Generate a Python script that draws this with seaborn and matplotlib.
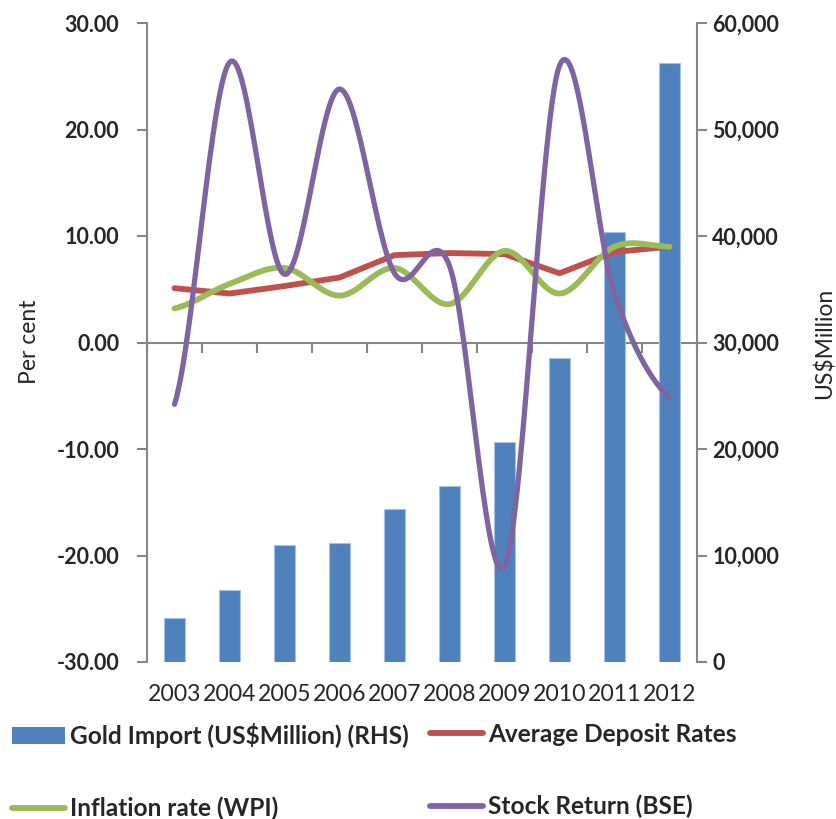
import numpy as np
import pandas as pd
import matplotlib
matplotlib.use("Agg")
import matplotlib.pyplot as plt
import seaborn as sns
from matplotlib.patches import Patch
from matplotlib.lines import Line2D
from matplotlib.ticker import FixedLocator, FuncFormatter

# data
years = ["2003", "2004", "2005", "2006", "2007", "2008", "2009", "2010", "2011", "2012"]
gold_import = [4100, 6730, 10960, 11150, 14340, 16560, 20630, 28570, 40400, 56200]  # US$ million (RHS)
deposit_rate = [5.1, 4.6, 5.3, 6.1, 8.2, 8.4, 8.3, 6.5, 8.5, 9.0]
inflation = [3.2, 5.5, 7.0, 4.4, 7.0, 3.6, 8.6, 4.6, 9.0, 9.0]
stock_return = [-5.8, 26.3, 6.4, 23.8, 6.5, 7.2, -21.0, 26.0, 4.6, -5.2]

BLUE = "#4F81BD"
BAR_EDGE = "#A9C1E0"
RED = "#C0504D"
GREEN = "#9BBB59"
PURPLE = "#8064A2"
GREY = "#868686"


def smooth(vals, steps=30):
    # excel style smoothed line (catmull-rom through the points)
    y = np.asarray(vals, float)
    p = np.concatenate([[y[0]], y, [y[-1]]])
    xs, ys = [], []
    for i in range(len(y) - 1):
        t = np.linspace(0, 1, steps, endpoint=False)
        p0, p1, p2, p3 = p[i], p[i + 1], p[i + 2], p[i + 3]
        seg = 0.5 * ((2 * p1) + (-p0 + p2) * t + (2 * p0 - 5 * p1 + 4 * p2 - p3) * t ** 2
                     + (-p0 + 3 * p1 - 3 * p2 + p3) * t ** 3)
        xs.extend(i + t)
        ys.extend(seg)
    xs.append(len(y) - 1)
    ys.append(y[-1])
    return np.array(xs), np.array(ys)


sns.set_theme(style="white")
plt.rcParams["font.family"] = ["Lato", "DejaVu Sans"]

fig = plt.figure(figsize=(8.37, 8.19), dpi=100)
ax = fig.add_axes([147 / 837, 1 - 662 / 819, 550 / 837, 639 / 819])
ax2 = ax.twinx()
ax.set_zorder(2)
ax.patch.set_visible(False)
ax2.set_zorder(1)

# bars on the right axis
df = pd.DataFrame({"year": years, "gold": gold_import})
sns.barplot(data=df, x="year", y="gold", ax=ax2, color=BLUE, saturation=1,
            width=0.39, linewidth=0.8, edgecolor=BAR_EDGE)

# lines on the left axis
idx = np.arange(len(years))
sns.lineplot(x=idx, y=deposit_rate, ax=ax, color=RED, linewidth=4.2,
             solid_capstyle="round", solid_joinstyle="round", estimator=None, sort=False)
gx, gy = smooth(inflation)
sns.lineplot(x=gx, y=gy, ax=ax, color=GREEN, linewidth=4.2,
             solid_capstyle="round", estimator=None, sort=False)
sx, sy = smooth(stock_return)
sns.lineplot(x=sx, y=sy, ax=ax, color=PURPLE, linewidth=3.8,
             solid_capstyle="round", estimator=None, sort=False)

ax.set_xlim(-0.5, len(years) - 0.5)
ax.set_ylim(-30, 30)
ax2.set_ylim(0, 60000)

# x axis: labels at the bottom, tick marks on the zero line
ax.xaxis.set_major_locator(FixedLocator(idx))
ax.xaxis.set_major_formatter(FuncFormatter(lambda v, pos: years[int(round(v))]))
ax.xaxis.set_minor_locator(FixedLocator(np.arange(-0.5, len(years), 1.0)))
ax.tick_params(axis="x", which="major", length=0, pad=16, labelsize=16.6)
ax.tick_params(axis="x", which="minor", length=0)
ax.set_xlabel("")
ax2.set_xlabel("")
ax2.xaxis.set_visible(True)
ax2.spines["bottom"].set_position(("data", 30000))
ax2.spines["bottom"].set_color(GREY)
ax2.spines["bottom"].set_linewidth(1.5)
ax2.spines["bottom"].set_zorder(0.5)
ax2.tick_params(axis="x", which="major", length=0, labelbottom=False)
ax2.tick_params(axis="x", which="minor", bottom=True, length=7, width=1.5,
                color=GREY, direction="out")

for s in ["top", "right", "bottom"]:
    ax.spines[s].set_visible(False)
for s in ["top", "left"]:
    ax2.spines[s].set_visible(False)
ax.spines["left"].set_color(GREY)
ax.spines["left"].set_linewidth(1.5)
ax2.spines["right"].set_color(GREY)
ax2.spines["right"].set_linewidth(1.5)

ax.set_yticks(range(-30, 31, 10))
ax.yaxis.set_major_formatter(FuncFormatter(lambda v, pos: f"{v:.2f}"))
ax.tick_params(axis="y", left=True, direction="out", length=7, width=1.5, color=GREY,
               pad=13, labelsize=15.5)
ax2.set_yticks(range(0, 60001, 10000))
ax2.yaxis.set_major_formatter(FuncFormatter(lambda v, pos: f"{int(v):,}"))
ax2.tick_params(axis="y", right=True, direction="out", length=7, width=1.5, color=GREY,
                pad=4, labelsize=15.5)
for lab in ax.get_yticklabels() + ax2.get_yticklabels():
    lab.set_fontweight("bold")
ax.set_ylabel("")
ax2.set_ylabel("")
ax.grid(False)
ax2.grid(False)

fig.text(30 / 837, 1 - 342 / 819, "Per cent", rotation=90, ha="center", va="center", fontsize=16.5)
fig.text(825 / 837, 1 - 343 / 819, "US$Million", rotation=90, ha="center", va="center", fontsize=16.5)

# legend, two columns laid out like the original
h_gold = Patch(facecolor=BLUE, edgecolor="none", label="Gold Import (US$Million) (RHS)")
h_dep = Line2D([], [], color=RED, lw=4.2, solid_capstyle="round", label="Average Deposit Rates")
h_inf = Line2D([], [], color=GREEN, lw=4.2, solid_capstyle="round", label="Inflation rate (WPI)")
h_stk = Line2D([], [], color=PURPLE, lw=4.2, solid_capstyle="round", label="Stock Return (BSE)")
leg_kw = dict(loc="upper left", frameon=False, prop={"size": 17.6, "weight": "bold"},
              handlelength=2.15, handleheight=0.75, handletextpad=0.22,
              labelspacing=2.0, borderpad=0, borderaxespad=0)
fig.legend(handles=[h_gold, h_inf], bbox_to_anchor=(12 / 837, 1 - 723 / 819), **leg_kw)
fig.legend(handles=[h_dep, h_stk], bbox_to_anchor=(430 / 837, 1 - 723 / 819), **leg_kw)

fig.savefig("out.png", dpi=100)
